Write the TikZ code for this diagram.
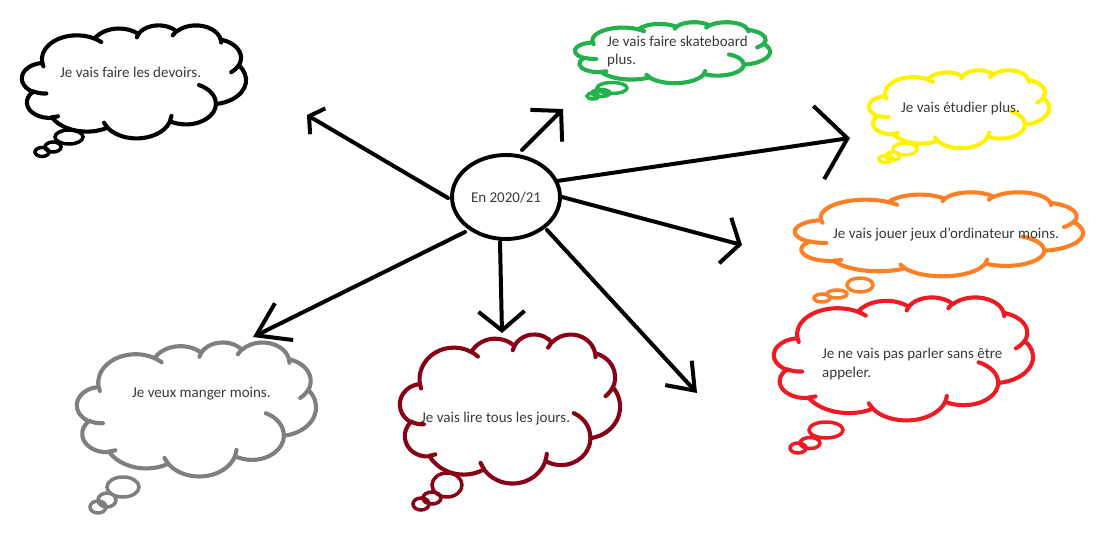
\documentclass[tikz,border=0pt]{standalone}
\usepackage{fontspec}
\setmainfont{Carlito}
\usetikzlibrary{shapes.geometric,arrows.meta}
\definecolor{pblack}{HTML}{000000}
\definecolor{pgreen}{HTML}{22B14C}
\definecolor{pyellow}{HTML}{FFF200}
\definecolor{porange}{HTML}{FF7F27}
\definecolor{pred}{HTML}{ED1C24}
\definecolor{pdarkred}{HTML}{880015}
\definecolor{pgray}{HTML}{7F7F7F}
\definecolor{ptext}{HTML}{3A3A3A}
% arc helper: visual angles (DrawingML) -> parametric
\newcommand\myOArc[4]{%
  \pgfmathsetmacro\myOT{atan2((#1)*sin(#3),(#2)*cos(#3))}%
  \pgfmathsetmacro\myOE{atan2((#1)*sin((#3)+(#4)),(#2)*cos((#3)+(#4)))}%
  \pgfmathsetmacro\myOD{mod(\myOE-\myOT-(#4)+1260,360)-180+(#4)}%
  \global\let\myOTg\myOT \global\let\myODg\myOD}
\newcommand\myArc[4]{\pgfextra{\myOArc{#1}{#2}{#3}{#4}} arc[start angle=\myOTg, delta angle=\myODg, x radius=#1, y radius=#2]}
\newcommand\myCloud[5]{% x0 y0 w h colour
  \begin{scope}[shift={(#1,#2)}, xscale=#3/432, yscale=#4/432]
  \filldraw[cloudline, draw=#5, fill=white] (39.00,143.70)
    \myArc{67.53}{91.90}{-190.4875}{123.7805}
    \myArc{53.33}{72.67}{-144.1024}{89.9452}
    \myArc{43.65}{59.45}{-145.8079}{99.7230}
    \myArc{48.57}{65.95}{-130.9861}{117.2417}
    \myArc{53.33}{72.73}{-78.7089}{109.0269}
    \myArc{67.75}{92.20}{-46.2673}{130.2690}
    \myArc{57.85}{78.67}{0.6250}{114.0333}
    \myArc{67.52}{92.15}{22.4516}{115.1726}
    \myArc{77.20}{105.43}{66.2426}{75.7110}
    \myArc{43.60}{59.18}{-274.9421}{146.7356}
    \myArc{43.45}{59.45}{-246.8285}{152.5189}
    -- cycle;
  \draw[cloudline, draw=#5]
    (46.93,261.77) \myArc{43.45}{59.45}{86.742}{26.4295}
    (69.28,348.99) \myArc{43.60}{59.18}{73.6105}{11.4475}
    (164.78,390.90) \myArc{67.52}{92.15}{137.6242}{14.0811}
    (288.27,347.51) \myArc{67.52}{92.15}{6.4533}{15.9984}
    (341.29,229.54) \myArc{57.85}{78.67}{-70.2924}{70.9174}
    (417.98,153.54) \myArc{53.33}{72.73}{30.3180}{27.7515}
    (383.24,54.26) \myArc{48.57}{65.95}{-13.7443}{14.8589}
    (290.78,39.52) \myArc{48.57}{65.95}{-149.1815}{15.4081}
    (221.41,47.20) \myArc{43.65}{59.45}{-163.4943}{17.6864}
    (140.00,51.92) \myArc{67.53}{91.90}{-66.7070}{12.3194}
    (41.27,157.89) \myArc{67.53}{91.90}{157.6544}{11.8582};
  \end{scope}}
\tikzset{
  cloudline/.style={line width=4.1pt, line cap=round, line join=round},
  puff/.style={line width=3.5pt},
  txt/.style={text=ptext, font=\fontsize{15}{18}\selectfont, inner sep=0pt, anchor=base west, align=left},
  arr/.style={line width=4pt, line cap=round}
}
\begin{document}
\begin{tikzpicture}[x=1pt,y=-1pt]
\useasboundingbox[fill=white] (0,0) rectangle (1100,546);

% centre
\node[ellipse, draw, line width=3.9pt, minimum width=108pt, minimum height=84pt, inner sep=0pt] (c) at (506,197) {};
\node[text=ptext, font=\fontsize{15}{18}\selectfont] (ct) at (506,198) {En 2020/21};

% tails
\draw[puff, pblack] (69,137) ellipse (14pt and 7pt) (53,147) ellipse (8pt and 5pt) (42,152) ellipse (7pt and 4.5pt);
\draw[puff, pgreen] (612,88) ellipse (15pt and 5.5pt) (601,93) ellipse (9pt and 3.5pt) (593,96) ellipse (6pt and 3pt);
\draw[puff, pyellow] (905,149) ellipse (12pt and 6pt) (893,156) ellipse (7pt and 4pt) (886,159) ellipse (7pt and 3.5pt);
\draw[puff, porange] (860,285) ellipse (13pt and 7pt) (837,294) ellipse (10pt and 4pt) (822,298) ellipse (8pt and 4pt);
\draw[puff, pred] (826,430) ellipse (17pt and 8pt) (810,443) ellipse (10pt and 5.5pt) (798,448) ellipse (8pt and 5pt);
\draw[puff, pdarkred] (447,485) ellipse (15pt and 12pt) (432,498) ellipse (9pt and 6pt) (421,504) ellipse (8pt and 6pt);
\draw[puff, pgray] (123,487) ellipse (16pt and 10pt) (107,500) ellipse (9pt and 7pt) (98,507) ellipse (8pt and 6pt);

% clouds
\myCloud{22}{25}{224}{113}{pblack}
\myCloud{575}{22}{195}{61}{pgreen}
\myCloud{869}{70}{180}{78}{pyellow}
\myCloud{795}{192}{288}{84}{porange}
\myCloud{774}{297}{259}{123}{pred}
\myCloud{400}{334}{220}{149}{pdarkred}
\myCloud{77}{342}{239}{134}{pgray}

% texts
\node[txt] (t1) at (60,77) {Je vais faire les devoirs.};
\node[txt] (t2) at (607,46) {Je vais faire skateboard};
\node[txt] (t2b) at (607,64) {plus.};
\node[txt] (t3) at (901,112) {Je vais étudier plus.};
\node[txt] (t4) at (833,238) {Je vais jouer jeux d’ordinateur moins.};
\node[txt] (t5) at (822,358) {Je ne vais pas parler sans être};
\node[txt] (t5b) at (822,377) {appeler.};
\node[txt] (t6) at (421,422) {Je vais lire tous les jours.};
\node[txt] (t7) at (132,397) {Je veux manger moins.};

% arrow tips
\coordinate (e1) at (307,115);
\coordinate (e2) at (563,109);
\coordinate (e3) at (850,138);
\coordinate (e4) at (742,245);
\coordinate (e5) at (697,393);
\coordinate (e6) at (502,333);
\coordinate (e7) at (253,337);

\draw[arr, -{Straight Barb[length=10pt, width=30pt, line width=4pt]}] (448,198) -- (e1);
\draw[arr, -{Straight Barb[length=21pt, width=45pt, line width=4pt]}] (522,150) -- (e2);
\draw[arr, -{Straight Barb[length=29pt, width=74pt, line width=4pt]}] (557,181) -- (e3);
\draw[arr, -{Straight Barb[length=15pt, width=47pt, line width=4pt]}] (562,197) -- (e4);
\draw[arr, -{Straight Barb[length=24pt, width=36pt, line width=4pt]}] (547,230) -- (e5);
\draw[arr, -{Straight Barb[length=19pt, width=46pt, line width=4pt]}] (500,242) -- (e6);
\draw[arr, -{Straight Barb[length=31pt, width=41pt, line width=4pt]}] (465,232) -- (e7);
\end{tikzpicture}
\end{document}
